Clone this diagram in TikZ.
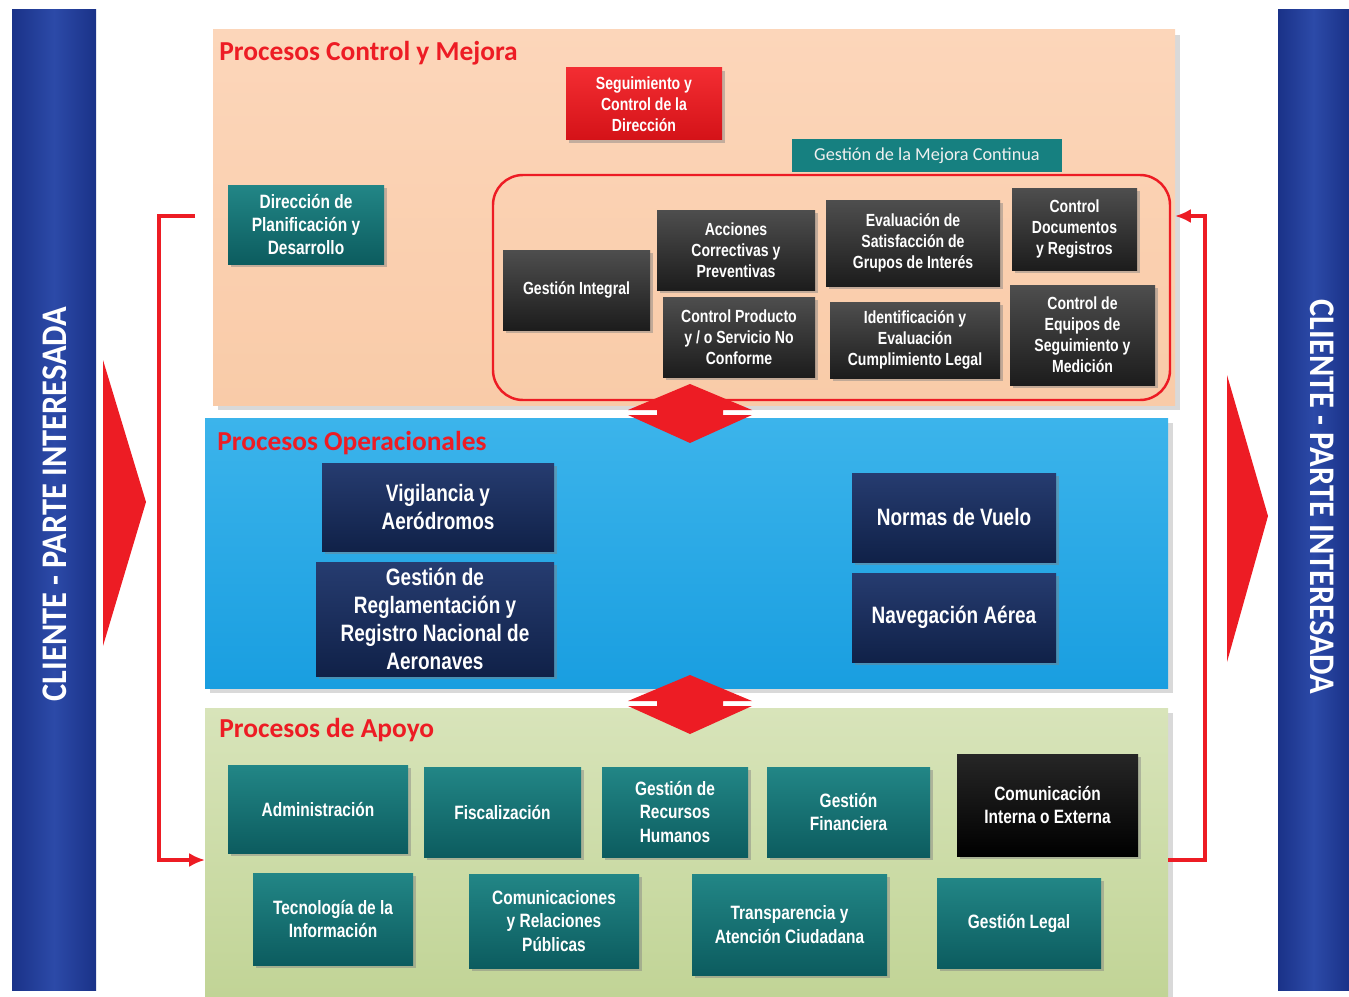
\documentclass[tikz,border=0pt]{standalone}
\usepackage{fontspec}
\setmainfont{Liberation Sans}
\newfontfamily\boxfont[FakeStretch=0.8]{Liberation Sans}
\newfontfamily\calfont{Carlito}
\newfontfamily\barfont[FakeStretch=0.9]{Carlito}
\usetikzlibrary{arrows.meta,shadows}

\definecolor{peach}{RGB}{249,203,168}
\definecolor{peachtop}{RGB}{252,214,186}
\definecolor{opblue}{RGB}{25,158,224}
\definecolor{optop}{RGB}{60,180,235}
\definecolor{apgreen}{RGB}{193,212,150}
\definecolor{aptop}{RGB}{216,228,186}
\definecolor{barblue}{RGB}{26,50,136}
\definecolor{barmid}{RGB}{44,74,168}
\definecolor{mred}{RGB}{237,28,36}
\definecolor{redtop}{RGB}{243,45,50}
\definecolor{redbot}{RGB}{212,18,24}
\definecolor{tealA}{RGB}{12,92,95}
\definecolor{tealB}{RGB}{34,134,134}
\definecolor{greyA}{RGB}{28,28,28}
\definecolor{greyB}{RGB}{78,78,78}
\definecolor{navyA}{RGB}{16,33,72}
\definecolor{navyB}{RGB}{38,60,112}
\definecolor{mejteal}{RGB}{22,128,128}

\tikzset{
  sz/.style 2 args={minimum width=#1*0.02cm, minimum height=#2*0.02cm},
  proc/.style={align=center, text=white, inner sep=1pt,
    drop shadow={opacity=0.45, shadow xshift=1.5pt, shadow yshift=-1.5pt}},
  tealbox/.style={proc, top color=tealB, bottom color=tealA,
    font=\boxfont\bfseries\fontsize{11}{13.3}\selectfont},
  darkbox/.style={proc, top color=greyB, bottom color=greyA,
    font=\boxfont\bfseries\fontsize{10}{12}\selectfont},
  redbox/.style={proc, top color=redtop, bottom color=redbot,
    font=\boxfont\bfseries\fontsize{10}{12}\selectfont},
  navybox/.style={proc, top color=navyB, bottom color=navyA,
    font=\boxfont\bfseries\fontsize{13.5}{16}\selectfont},
  blackbox/.style={proc, top color=black!85, bottom color=black,
    font=\boxfont\bfseries\fontsize{11}{13.3}\selectfont},
  paneltitle/.style={anchor=west, text=mred, inner sep=0pt,
    font=\calfont\bfseries\fontsize{15.6}{18}\selectfont},
  bartext/.style={text=white, font=\barfont\bfseries\fontsize{20.5}{24}\selectfont},
  feedback/.style={draw=mred, line width=2pt, -{Latex[length=9pt,width=8pt]}},
  twoway/.style={fill=mred},
}

\begin{document}
\begin{tikzpicture}[x=0.02cm, y=-0.02cm]
\useasboundingbox (0,0) rectangle (1349,997);

% side bars
\shade[left color=barblue, right color=barblue, middle color=barmid] (12,10) rectangle (96,990);
\shade[left color=barblue, right color=barblue, middle color=barmid] (1278,10) rectangle (1349,990);
\node[bartext, rotate=90] (clientL) at (55,504) {CLIENTE - PARTE INTERESADA};
\node[bartext, rotate=-90] (clientR) at (1322,497) {CLIENTE - PARTE INTERESADA};

% chevrons
\fill[mred] (103,360) -- (146,502) -- (103,646) -- cycle;
\fill[mred] (1227,375) -- (1268,516) -- (1227,662) -- cycle;

% panels
\fill[top color=peachtop, bottom color=peach, drop shadow={opacity=0.3}] (213,30) rectangle (1175,405);
\fill[top color=optop, bottom color=opblue, drop shadow={opacity=0.3}] (205,418) rectangle (1168,688);
\fill[top color=aptop, bottom color=apgreen, drop shadow={opacity=0.3}] (205,708) rectangle (1168,997);
\node[paneltitle] (tctl) at (219,53) {Procesos Control y Mejora};
\node[paneltitle] (toper) at (217,443) {Procesos Operacionales};
\node[paneltitle] (tapoyo) at (219,730) {Procesos de Apoyo};

% double arrows between panels
\foreach \cy in {412,703}
  \fill[twoway] (690,\cy) ++(0,-28) -- ++(62,26) -- ++(-29,0) -- ++(0,5) -- ++(29,0)
    -- ++(-62,28) -- ++(-62,-28) -- ++(29,0) -- ++(0,-5) -- ++(-29,0) -- cycle;

% control y mejora
\node[redbox, sz={156}{72}] (segui) at (644,104) {Seguimiento y\\Control de la\\Dirección};
\node[fill=mejteal, sz={270}{33}, text=white!88!gray, inner sep=0pt,
  font=\calfont\fontsize{10.4}{12}\selectfont] (mejora) at (927,155.5) {Gestión de la Mejora Continua};
\node[tealbox, sz={156}{79}] (dirplan) at (306,224.5) {Dirección de\\Planificación y\\Desarrollo};
\draw[mred, line width=1.4pt, rounded corners=0.6cm] (493,175) rectangle (1170,400);
\node[darkbox, sz={147}{80}] (gint) at (576.5,290) {Gestión Integral};
\node[darkbox, sz={158}{80}] (acc) at (736,250) {Acciones\\Correctivas y\\Preventivas};
\node[darkbox, sz={152}{80}] (cprod) at (739,337) {Control Producto\\y / o Servicio No\\Conforme};
\node[darkbox, sz={174}{86}] (evsat) at (913,243) {Evaluación de\\Satisfacción de\\Grupos de Interés};
\node[darkbox, sz={170}{76}] (ident) at (915,340) {Identificación y\\Evaluación\\Cumplimiento Legal};
\node[darkbox, sz={125}{82}] (cdoc) at (1074.5,229) {Control\\Documentos\\y Registros};
\node[darkbox, sz={145}{100}] (cequip) at (1082.5,335) {Control de\\Equipos de\\Seguimiento y\\Medición};

% operacionales
\node[navybox, sz={232}{88}] (vig) at (438,507) {Vigilancia y\\Aeródromos};
\node[navybox, sz={238}{114}] (greg) at (435,619) {Gestión de\\Reglamentación y\\Registro Nacional de\\Aeronaves};
\node[navybox, sz={204}{89}] (normas) at (954,517.5) {Normas de Vuelo};
\node[navybox, sz={204}{89}] (nav) at (954,617.5) {Navegación Aérea};

% apoyo
\node[tealbox, sz={180}{88}] (adm) at (318,809) {Administración};
\node[tealbox, sz={157}{90}] (fisc) at (502.5,812) {Fiscalización};
\node[tealbox, sz={146}{90}] (rrhh) at (675,812) {Gestión de\\Recursos\\Humanos};
\node[tealbox, sz={163}{90}] (fin) at (848.5,812) {Gestión\\Financiera};
\node[blackbox, sz={181}{102}] (comint) at (1047.5,805) {Comunicación\\Interna o Externa};
\node[tealbox, sz={160}{92}] (tic) at (333,919) {Tecnología de la\\Información};
\node[tealbox, sz={170}{94}] (crp) at (554,921) {Comunicaciones\\y Relaciones\\Públicas};
\node[tealbox, sz={195}{101}] (transp) at (789.5,924.5) {Transparencia y\\Atención Ciudadana};
\node[tealbox, sz={164}{90}] (legal) at (1019,923) {Gestión Legal};

% feedback loops
\coordinate (fbL1) at (195,216);
\coordinate (fbL2) at (205,860);
\coordinate (fbR1) at (1168,860);
\coordinate (fbR2) at (1175,216);
\draw[feedback] (fbL1) -- ++(-36,0) |- (fbL2);
\draw[feedback] (fbR1) -- ++(37,0) |- (fbR2);
\end{tikzpicture}
\end{document}
